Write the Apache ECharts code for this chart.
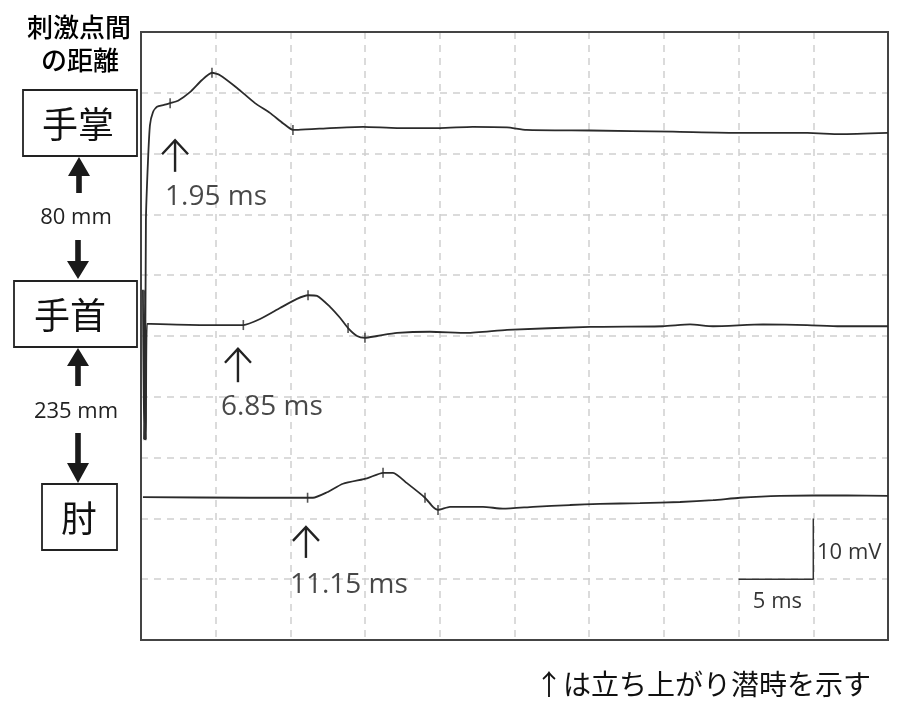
<!DOCTYPE html>
<html>
<head>
<meta charset="utf-8">
<script src="https://cdn.jsdelivr.net/npm/echarts@6/dist/echarts.min.js"></script>
<style>
html,body{margin:0;padding:0;background:#fff;}
#chart{width:906px;height:711px;}
</style>
</head>
<body>
<div id="chart"></div>
<script>
// ---- data (time in ms, amplitude in display units: 1 grid row = 10 mV) ----
const palmT  = [0.27,0.33,0.47,0.60,0.80,1.07,1.54,1.95,2.48,3.28,4.08,4.75,5.29,6.43,7.63,8.63,9.50,10.17,10.51,12.65,14.86,17.14,20.0,22.2,24.5,25.8,30.1,35.6,40.1,44.6,46.8,50.0];
const palmV  = [32.9,69.1,78.9,84.7,86.8,87.7,88.0,88.3,88.7,90.1,92.1,93.3,92.9,90.8,88.3,86.7,85.0,83.9,83.9,84.2,84.4,84.2,84.2,84.4,84.3,83.9,83.8,83.6,83.4,83.4,83.2,83.4];
const wristT = [0.13,0.20,0.27,0.33,0.40,3.95,6.85,7.97,9.30,10.44,11.18,11.78,12.65,13.32,13.86,14.46,14.99,15.80,17.14,19.34,21.82,24.50,30.05,34.94,36.75,38.29,41.63,44.58,46.79,50.0];
const wristV = [57.6,32.9,57.6,32.9,52.0,51.8,51.8,52.8,54.6,56.1,56.7,56.6,54.8,53.0,51.3,50.0,49.7,50.0,50.5,50.7,50.5,51.0,51.5,51.6,51.9,51.6,51.9,51.8,51.6,51.6];
const elbowT = [0.13,7.30,11.15,11.51,12.45,13.52,15.13,16.20,16.87,17.80,19.01,19.54,19.88,20.68,22.89,24.23,26.24,28.71,30.72,33.40,36.08,38.29,40.09,42.77,47.26,50.0];
const elbowV = [23.5,23.4,23.4,23.4,24.3,25.7,26.6,27.5,27.5,25.8,23.4,21.9,21.4,21.9,21.9,21.6,21.9,22.2,22.4,22.5,22.7,23.0,23.4,23.7,23.8,23.7];

// cursor marks on the traces
const markT = [1.95,4.75,10.17, 6.85,11.18,13.86,14.99, 11.15,16.20,19.01,19.88];
const markV = [88.3,93.3,83.9, 51.8,56.7,51.3,49.7, 23.4,27.5,23.4,21.4];

// onset latency annotations
const latencyLabels = ['1.95 ms','6.85 ms','11.15 ms'];
const arrowT   = [2.28, 6.49, 11.04];
const arrowTip = [82.2, 47.9, 18.6];
const arrowEnd = [77.0, 42.4, 13.5];
const labelT   = [1.61, 5.35, 9.97];
const labelV   = [72.9, 38.3, 9.0];

// calibration bar
const scaleX = [40, 45, 45];
const scaleY = [10, 10, 20];

// site labels
const sites = ['手掌','手首','肘'];
const distances = ['80 mm','235 mm'];

const zip = (a,b) => a.map((v,i)=>[v,b[i]]);
const ink = '#2b2b2b';
const latinFont = '"Open Sans","Noto Sans",sans-serif';
const cjkFont = '"Noto Sans CJK JP",sans-serif';

const traceStyle = {color: ink, width: 1.8};

const chart = echarts.init(document.getElementById('chart'));

function solidArrow(x, yTip, yHeadBase, yTail){
  const hw = 11, sw = 2.8;
  return {
    type:'polygon',
    shape:{points:[[x,yTip],[x+hw,yHeadBase],[x+sw,yHeadBase],[x+sw,yTail],[x-sw,yTail],[x-sw,yHeadBase],[x-hw,yHeadBase]]},
    style:{fill:'#1a1a1a'}
  };
}

const option = {
  backgroundColor:'#fff',
  animation:false,
  grid:{left:141,right:18,top:32,bottom:71,show:true,borderColor:'#444',borderWidth:2,backgroundColor:'transparent',z:3},
  xAxis:{type:'value',min:0,max:50,interval:5,
    axisLine:{show:false},axisTick:{show:false},axisLabel:{show:false},
    splitLine:{show:true,showMinLine:false,showMaxLine:false,lineStyle:{color:'#cfcfcf',type:[7,6],width:1.5}}},
  yAxis:{type:'value',min:0,max:100,interval:10,
    axisLine:{show:false},axisTick:{show:false},axisLabel:{show:false},
    splitLine:{show:true,showMinLine:false,showMaxLine:false,lineStyle:{color:'#cfcfcf',type:[7,6],width:1.5}}},
  series:[
    {name:sites[0],type:'line',data:zip(palmT,palmV),showSymbol:false,lineStyle:traceStyle,smooth:0.2},
    {name:sites[1],type:'line',data:zip(wristT,wristV),showSymbol:false,lineStyle:traceStyle,smooth:0.2},
    {name:sites[2],type:'line',data:zip(elbowT,elbowV),showSymbol:false,lineStyle:traceStyle,smooth:0.2},
    {type:'scatter',data:zip(markT,markV),symbol:'rect',symbolSize:[1.6,10],itemStyle:{color:ink},z:5},
    {type:'line',data:zip(scaleX,scaleY),showSymbol:false,lineStyle:{color:'#333',width:1.5}},
    {type:'custom',
      data:arrowT.map((t,i)=>[t,arrowTip[i],arrowEnd[i]]),
      renderItem:function(params,api){
        const tip = api.coord([api.value(0),api.value(1)]);
        const end = api.coord([api.value(0),api.value(2)]);
        return {type:'group',children:[
          {type:'polyline',shape:{points:[tip,end]},style:{stroke:'#222',lineWidth:2.4,fill:null}},
          {type:'polyline',shape:{points:[[tip[0]-13,tip[1]+14],tip,[tip[0]+13,tip[1]+14]]},style:{stroke:'#222',lineWidth:2.4,fill:null}}
        ]};
      }},
    {type:'scatter',symbolSize:0,
      data:labelT.map((t,i)=>({value:[t,labelV[i]],name:latencyLabels[i]})),
      label:{show:true,position:'right',distance:0,formatter:'{b}',fontSize:28,color:'#1a1a1a',fontFamily:latinFont}},
    {type:'scatter',symbolSize:0,
      data:[{value:[45.25,14.3],name:'10 mV'}],
      label:{show:true,position:'right',distance:0,formatter:'{b}',fontSize:22,color:'#000',fontFamily:latinFont}},
    {type:'scatter',symbolSize:0,
      data:[{value:[42.6,6.25],name:'5 ms'}],
      label:{show:true,position:'inside',formatter:'{b}',fontSize:22,color:'#000',fontFamily:latinFont}}
  ],
  graphic:[
    {type:'text',style:{text:'刺激点間',x:79,y:27,fontSize:26,fontWeight:500,fontFamily:cjkFont,fill:'#000',align:'center',verticalAlign:'middle'}},
    {type:'text',style:{text:'の距離',x:80,y:60,fontSize:26,fontWeight:500,fontFamily:cjkFont,fill:'#000',align:'center',verticalAlign:'middle'}},
    {type:'rect',shape:{x:23,y:90,width:114,height:66},style:{fill:'#fff',stroke:'#222',lineWidth:1.8}},
    {type:'text',style:{text:sites[0],x:78,y:124,fontSize:36,fontFamily:cjkFont,fill:'#111',align:'center',verticalAlign:'middle'}},
    {type:'rect',shape:{x:14,y:281,width:123,height:66},style:{fill:'#fff',stroke:'#222',lineWidth:1.8}},
    {type:'text',style:{text:sites[1],x:70,y:315,fontSize:36,fontFamily:cjkFont,fill:'#111',align:'center',verticalAlign:'middle'}},
    {type:'rect',shape:{x:42,y:484,width:75,height:66},style:{fill:'#fff',stroke:'#222',lineWidth:1.8}},
    {type:'text',style:{text:sites[2],x:79,y:518,fontSize:36,fontFamily:cjkFont,fill:'#111',align:'center',verticalAlign:'middle'}},
    solidArrow(79,157,176,193),
    solidArrow(78,279,261,240),
    solidArrow(78,348,366,386),
    solidArrow(78,483,463,433),
    {type:'text',style:{text:distances[0],x:76,y:218,fontSize:22,fontFamily:latinFont,fill:'#222',align:'center',verticalAlign:'middle'}},
    {type:'text',style:{text:distances[1],x:76,y:412,fontSize:22,fontFamily:latinFont,fill:'#222',align:'center',verticalAlign:'middle'}},
    {type:'text',style:{text:'↑は立ち上がり潜時を示す',x:535,y:684,fontSize:28,fontFamily:cjkFont,fill:'#111',align:'left',verticalAlign:'middle'}}
  ]
};
chart.setOption(option);
</script>
</body>
</html>
